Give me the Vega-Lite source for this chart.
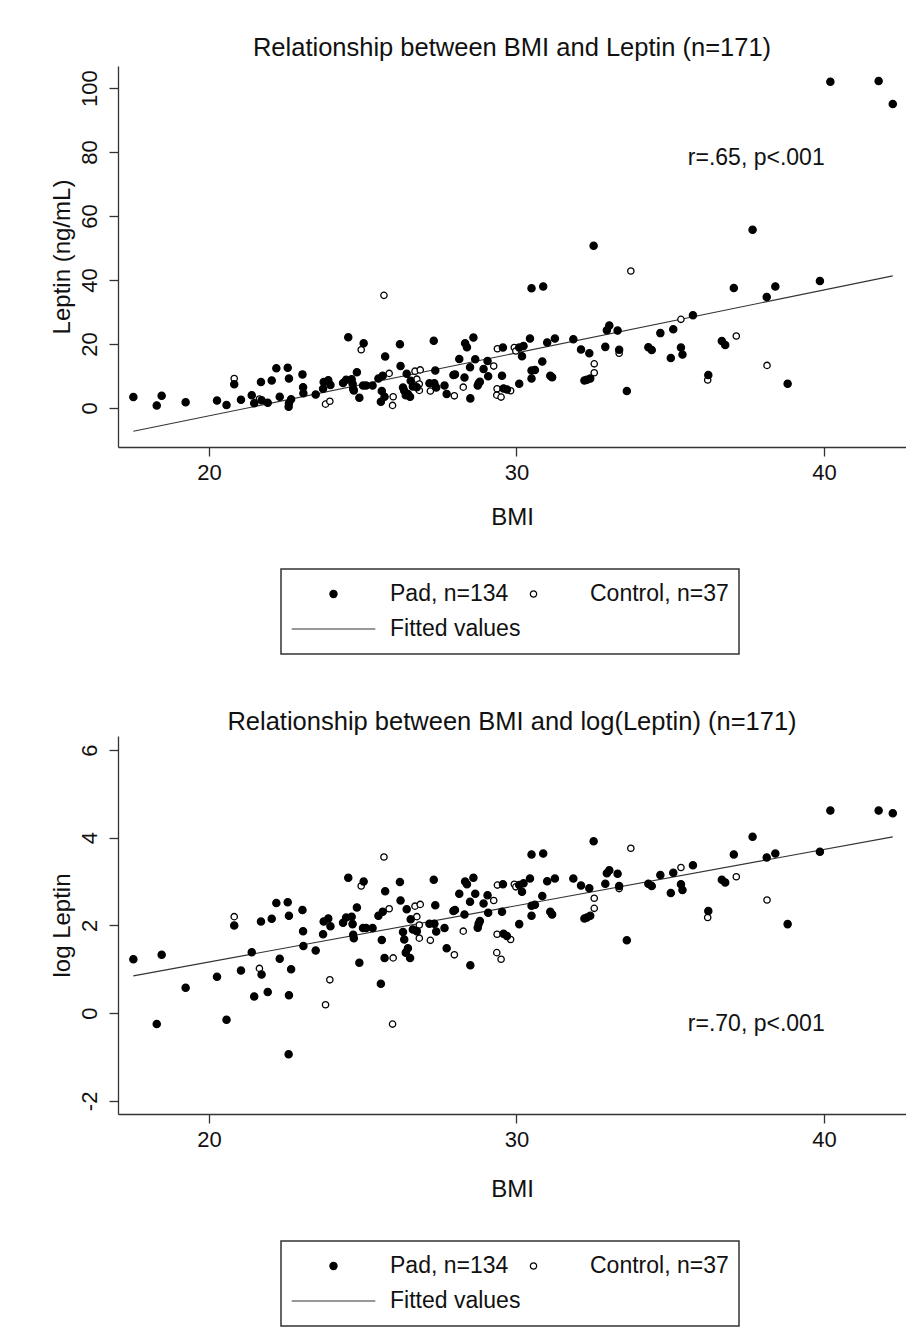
{
  "$schema": "https://vega.github.io/schema/vega-lite/v6.json",
  "background": "white",
  "padding": {"left": 50, "top": 35, "right": 0, "bottom": 0},
  "bounds": "flush",
  "spacing": 289,
  "datasets": {
    "pts": [
      {"g": "Control, n=37", "bmi": 20.82, "lep": 9.2, "llep": 2.20},
      {"g": "Control, n=37", "bmi": 21.64, "lep": 2.8, "llep": 1.02},
      {"g": "Control, n=37", "bmi": 23.79, "lep": 1.2, "llep": 0.19},
      {"g": "Control, n=37", "bmi": 23.93, "lep": 2.1, "llep": 0.76},
      {"g": "Control, n=37", "bmi": 24.95, "lep": 18.2, "llep": 2.90},
      {"g": "Control, n=37", "bmi": 25.69, "lep": 35.2, "llep": 3.56},
      {"g": "Control, n=37", "bmi": 25.86, "lep": 10.8, "llep": 2.38},
      {"g": "Control, n=37", "bmi": 25.99, "lep": 3.5, "llep": 1.26},
      {"g": "Control, n=37", "bmi": 25.97, "lep": 0.8, "llep": -0.25},
      {"g": "Control, n=37", "bmi": 26.70, "lep": 11.5, "llep": 2.44},
      {"g": "Control, n=37", "bmi": 26.76, "lep": 9.0, "llep": 2.20},
      {"g": "Control, n=37", "bmi": 26.84, "lep": 7.5, "llep": 2.01},
      {"g": "Control, n=37", "bmi": 26.87, "lep": 11.9, "llep": 2.48},
      {"g": "Control, n=37", "bmi": 26.84, "lep": 5.5, "llep": 1.71},
      {"g": "Control, n=37", "bmi": 27.20, "lep": 5.3, "llep": 1.66},
      {"g": "Control, n=37", "bmi": 27.98, "lep": 3.8, "llep": 1.33},
      {"g": "Control, n=37", "bmi": 28.27, "lep": 6.5, "llep": 1.87},
      {"g": "Control, n=37", "bmi": 29.26, "lep": 13.1, "llep": 2.57},
      {"g": "Control, n=37", "bmi": 29.38, "lep": 18.5, "llep": 2.92},
      {"g": "Control, n=37", "bmi": 29.37, "lep": 6.0, "llep": 1.80},
      {"g": "Control, n=37", "bmi": 29.36, "lep": 4.0, "llep": 1.38},
      {"g": "Control, n=37", "bmi": 29.50, "lep": 3.4, "llep": 1.23},
      {"g": "Control, n=37", "bmi": 29.81, "lep": 5.4, "llep": 1.68},
      {"g": "Control, n=37", "bmi": 29.93, "lep": 18.9, "llep": 2.94},
      {"g": "Control, n=37", "bmi": 29.98, "lep": 17.8, "llep": 2.88},
      {"g": "Control, n=37", "bmi": 32.53, "lep": 13.8, "llep": 2.62},
      {"g": "Control, n=37", "bmi": 32.53, "lep": 11.0, "llep": 2.39},
      {"g": "Control, n=37", "bmi": 33.34, "lep": 17.1, "llep": 2.84},
      {"g": "Control, n=37", "bmi": 33.72, "lep": 42.8, "llep": 3.76},
      {"g": "Control, n=37", "bmi": 35.35, "lep": 27.7, "llep": 3.32},
      {"g": "Control, n=37", "bmi": 36.22, "lep": 8.75, "llep": 2.18},
      {"g": "Control, n=37", "bmi": 37.15, "lep": 22.5, "llep": 3.11},
      {"g": "Control, n=37", "bmi": 38.15, "lep": 13.3, "llep": 2.58},
      {"g": "Control, n=37", "bmi": 24.67, "lep": 7.6, "llep": 2.03},
      {"g": "Control, n=37", "bmi": 27.33, "lep": 7.7, "llep": 2.04},
      {"g": "Control, n=37", "bmi": 28.77, "lep": 7.7, "llep": 2.04},
      {"g": "Control, n=37", "bmi": 31.16, "lep": 9.6, "llep": 2.25},
      {"g": "Pad, n=134", "bmi": 17.54, "lep": 3.4, "llep": 1.23},
      {"g": "Pad, n=134", "bmi": 18.30, "lep": 0.8, "llep": -0.25},
      {"g": "Pad, n=134", "bmi": 18.46, "lep": 3.8, "llep": 1.33},
      {"g": "Pad, n=134", "bmi": 19.24, "lep": 1.8, "llep": 0.58},
      {"g": "Pad, n=134", "bmi": 20.26, "lep": 2.3, "llep": 0.83},
      {"g": "Pad, n=134", "bmi": 20.57, "lep": 0.9, "llep": -0.15},
      {"g": "Pad, n=134", "bmi": 20.82, "lep": 7.4, "llep": 2.00},
      {"g": "Pad, n=134", "bmi": 21.04, "lep": 2.6, "llep": 0.97},
      {"g": "Pad, n=134", "bmi": 21.39, "lep": 4.0, "llep": 1.39},
      {"g": "Pad, n=134", "bmi": 21.47, "lep": 1.5, "llep": 0.38},
      {"g": "Pad, n=134", "bmi": 21.71, "lep": 2.4, "llep": 0.88},
      {"g": "Pad, n=134", "bmi": 21.69, "lep": 8.1, "llep": 2.09},
      {"g": "Pad, n=134", "bmi": 21.91, "lep": 1.6, "llep": 0.48},
      {"g": "Pad, n=134", "bmi": 22.04, "lep": 8.6, "llep": 2.15},
      {"g": "Pad, n=134", "bmi": 22.19, "lep": 12.4, "llep": 2.51},
      {"g": "Pad, n=134", "bmi": 22.30, "lep": 3.5, "llep": 1.24},
      {"g": "Pad, n=134", "bmi": 22.56, "lep": 12.6, "llep": 2.53},
      {"g": "Pad, n=134", "bmi": 22.60, "lep": 9.2, "llep": 2.22},
      {"g": "Pad, n=134", "bmi": 22.67, "lep": 2.7, "llep": 1.00},
      {"g": "Pad, n=134", "bmi": 22.60, "lep": 1.5, "llep": 0.41},
      {"g": "Pad, n=134", "bmi": 22.59, "lep": 0.4, "llep": -0.94},
      {"g": "Pad, n=134", "bmi": 23.04, "lep": 10.5, "llep": 2.35},
      {"g": "Pad, n=134", "bmi": 23.06, "lep": 6.5, "llep": 1.87},
      {"g": "Pad, n=134", "bmi": 23.07, "lep": 4.6, "llep": 1.53},
      {"g": "Pad, n=134", "bmi": 23.47, "lep": 4.2, "llep": 1.43},
      {"g": "Pad, n=134", "bmi": 23.71, "lep": 6.0, "llep": 1.80},
      {"g": "Pad, n=134", "bmi": 23.73, "lep": 8.1, "llep": 2.09},
      {"g": "Pad, n=134", "bmi": 23.88, "lep": 8.7, "llep": 2.16},
      {"g": "Pad, n=134", "bmi": 23.95, "lep": 7.2, "llep": 1.98},
      {"g": "Pad, n=134", "bmi": 24.36, "lep": 7.8, "llep": 2.06},
      {"g": "Pad, n=134", "bmi": 24.46, "lep": 8.8, "llep": 2.18},
      {"g": "Pad, n=134", "bmi": 24.53, "lep": 22.1, "llep": 3.09},
      {"g": "Pad, n=134", "bmi": 24.64, "lep": 9.0, "llep": 2.20},
      {"g": "Pad, n=134", "bmi": 24.67, "lep": 7.6, "llep": 2.03},
      {"g": "Pad, n=134", "bmi": 24.69, "lep": 6.0, "llep": 1.79},
      {"g": "Pad, n=134", "bmi": 24.71, "lep": 5.5, "llep": 1.71},
      {"g": "Pad, n=134", "bmi": 24.81, "lep": 11.2, "llep": 2.41},
      {"g": "Pad, n=134", "bmi": 24.89, "lep": 3.2, "llep": 1.15},
      {"g": "Pad, n=134", "bmi": 25.03, "lep": 20.2, "llep": 3.00},
      {"g": "Pad, n=134", "bmi": 25.01, "lep": 7.0, "llep": 1.94},
      {"g": "Pad, n=134", "bmi": 25.11, "lep": 7.0, "llep": 1.94},
      {"g": "Pad, n=134", "bmi": 25.32, "lep": 7.0, "llep": 1.94},
      {"g": "Pad, n=134", "bmi": 25.51, "lep": 9.2, "llep": 2.22},
      {"g": "Pad, n=134", "bmi": 25.65, "lep": 10.1, "llep": 2.31},
      {"g": "Pad, n=134", "bmi": 25.59, "lep": 1.95, "llep": 0.67},
      {"g": "Pad, n=134", "bmi": 25.62, "lep": 5.3, "llep": 1.67},
      {"g": "Pad, n=134", "bmi": 25.73, "lep": 16.1, "llep": 2.78},
      {"g": "Pad, n=134", "bmi": 25.71, "lep": 3.5, "llep": 1.26},
      {"g": "Pad, n=134", "bmi": 26.21, "lep": 19.9, "llep": 2.99},
      {"g": "Pad, n=134", "bmi": 26.23, "lep": 13.1, "llep": 2.57},
      {"g": "Pad, n=134", "bmi": 26.31, "lep": 6.4, "llep": 1.85},
      {"g": "Pad, n=134", "bmi": 26.35, "lep": 5.4, "llep": 1.68},
      {"g": "Pad, n=134", "bmi": 26.43, "lep": 10.7, "llep": 2.37},
      {"g": "Pad, n=134", "bmi": 26.47, "lep": 4.4, "llep": 1.48},
      {"g": "Pad, n=134", "bmi": 26.40, "lep": 4.0, "llep": 1.38},
      {"g": "Pad, n=134", "bmi": 26.54, "lep": 3.5, "llep": 1.26},
      {"g": "Pad, n=134", "bmi": 26.56, "lep": 8.5, "llep": 2.14},
      {"g": "Pad, n=134", "bmi": 26.63, "lep": 6.75, "llep": 1.91},
      {"g": "Pad, n=134", "bmi": 26.76, "lep": 6.5, "llep": 1.87},
      {"g": "Pad, n=134", "bmi": 27.17, "lep": 7.7, "llep": 2.04},
      {"g": "Pad, n=134", "bmi": 27.31, "lep": 21.0, "llep": 3.04},
      {"g": "Pad, n=134", "bmi": 27.36, "lep": 11.7, "llep": 2.46},
      {"g": "Pad, n=134", "bmi": 27.33, "lep": 7.7, "llep": 2.04},
      {"g": "Pad, n=134", "bmi": 27.39, "lep": 6.4, "llep": 1.86},
      {"g": "Pad, n=134", "bmi": 27.66, "lep": 7.0, "llep": 1.94},
      {"g": "Pad, n=134", "bmi": 27.73, "lep": 4.4, "llep": 1.48},
      {"g": "Pad, n=134", "bmi": 27.95, "lep": 10.3, "llep": 2.33},
      {"g": "Pad, n=134", "bmi": 28.00, "lep": 10.5, "llep": 2.35},
      {"g": "Pad, n=134", "bmi": 28.14, "lep": 15.3, "llep": 2.72},
      {"g": "Pad, n=134", "bmi": 28.31, "lep": 9.5, "llep": 2.25},
      {"g": "Pad, n=134", "bmi": 28.33, "lep": 20.2, "llep": 3.00},
      {"g": "Pad, n=134", "bmi": 28.39, "lep": 19.0, "llep": 2.94},
      {"g": "Pad, n=134", "bmi": 28.49, "lep": 12.7, "llep": 2.54},
      {"g": "Pad, n=134", "bmi": 28.60, "lep": 22.0, "llep": 3.09},
      {"g": "Pad, n=134", "bmi": 28.66, "lep": 15.2, "llep": 2.72},
      {"g": "Pad, n=134", "bmi": 28.50, "lep": 3.0, "llep": 1.09},
      {"g": "Pad, n=134", "bmi": 28.74, "lep": 7.0, "llep": 1.95},
      {"g": "Pad, n=134", "bmi": 28.77, "lep": 7.7, "llep": 2.04},
      {"g": "Pad, n=134", "bmi": 28.81, "lep": 8.2, "llep": 2.10},
      {"g": "Pad, n=134", "bmi": 28.93, "lep": 12.2, "llep": 2.50},
      {"g": "Pad, n=134", "bmi": 29.06, "lep": 14.7, "llep": 2.69},
      {"g": "Pad, n=134", "bmi": 29.08, "lep": 9.9, "llep": 2.29},
      {"g": "Pad, n=134", "bmi": 29.53, "lep": 10.1, "llep": 2.31},
      {"g": "Pad, n=134", "bmi": 29.56, "lep": 18.9, "llep": 2.94},
      {"g": "Pad, n=134", "bmi": 29.58, "lep": 6.1, "llep": 1.81},
      {"g": "Pad, n=134", "bmi": 29.69, "lep": 5.8, "llep": 1.76},
      {"g": "Pad, n=134", "bmi": 30.09, "lep": 7.6, "llep": 2.03},
      {"g": "Pad, n=134", "bmi": 30.09, "lep": 18.9, "llep": 2.92},
      {"g": "Pad, n=134", "bmi": 30.23, "lep": 19.4, "llep": 2.96},
      {"g": "Pad, n=134", "bmi": 30.18, "lep": 16.2, "llep": 2.77},
      {"g": "Pad, n=134", "bmi": 30.44, "lep": 21.7, "llep": 3.07},
      {"g": "Pad, n=134", "bmi": 30.49, "lep": 37.4, "llep": 3.62},
      {"g": "Pad, n=134", "bmi": 30.87, "lep": 38.0, "llep": 3.64},
      {"g": "Pad, n=134", "bmi": 30.84, "lep": 14.5, "llep": 2.67},
      {"g": "Pad, n=134", "bmi": 30.49, "lep": 11.7, "llep": 2.45},
      {"g": "Pad, n=134", "bmi": 30.60, "lep": 11.9, "llep": 2.47},
      {"g": "Pad, n=134", "bmi": 30.49, "lep": 9.2, "llep": 2.22},
      {"g": "Pad, n=134", "bmi": 31.00, "lep": 20.5, "llep": 3.01},
      {"g": "Pad, n=134", "bmi": 31.25, "lep": 21.7, "llep": 3.07},
      {"g": "Pad, n=134", "bmi": 31.10, "lep": 10.1, "llep": 2.31},
      {"g": "Pad, n=134", "bmi": 31.16, "lep": 9.6, "llep": 2.25},
      {"g": "Pad, n=134", "bmi": 31.85, "lep": 21.5, "llep": 3.07},
      {"g": "Pad, n=134", "bmi": 32.10, "lep": 18.3, "llep": 2.91},
      {"g": "Pad, n=134", "bmi": 32.37, "lep": 17.1, "llep": 2.85},
      {"g": "Pad, n=134", "bmi": 32.51, "lep": 50.7, "llep": 3.92},
      {"g": "Pad, n=134", "bmi": 32.21, "lep": 8.6, "llep": 2.16},
      {"g": "Pad, n=134", "bmi": 32.29, "lep": 8.8, "llep": 2.18},
      {"g": "Pad, n=134", "bmi": 32.40, "lep": 9.2, "llep": 2.22},
      {"g": "Pad, n=134", "bmi": 32.89, "lep": 19.1, "llep": 2.95},
      {"g": "Pad, n=134", "bmi": 32.94, "lep": 24.3, "llep": 3.19},
      {"g": "Pad, n=134", "bmi": 33.02, "lep": 25.8, "llep": 3.26},
      {"g": "Pad, n=134", "bmi": 33.29, "lep": 24.2, "llep": 3.18},
      {"g": "Pad, n=134", "bmi": 33.34, "lep": 18.2, "llep": 2.90},
      {"g": "Pad, n=134", "bmi": 33.59, "lep": 5.3, "llep": 1.66},
      {"g": "Pad, n=134", "bmi": 34.29, "lep": 19.0, "llep": 2.95},
      {"g": "Pad, n=134", "bmi": 34.40, "lep": 18.1, "llep": 2.90},
      {"g": "Pad, n=134", "bmi": 34.68, "lep": 23.4, "llep": 3.15},
      {"g": "Pad, n=134", "bmi": 35.02, "lep": 15.6, "llep": 2.74},
      {"g": "Pad, n=134", "bmi": 35.10, "lep": 24.6, "llep": 3.20},
      {"g": "Pad, n=134", "bmi": 35.35, "lep": 18.9, "llep": 2.94},
      {"g": "Pad, n=134", "bmi": 35.40, "lep": 16.7, "llep": 2.81},
      {"g": "Pad, n=134", "bmi": 35.74, "lep": 29.0, "llep": 3.37},
      {"g": "Pad, n=134", "bmi": 36.24, "lep": 10.3, "llep": 2.33},
      {"g": "Pad, n=134", "bmi": 36.68, "lep": 20.9, "llep": 3.04},
      {"g": "Pad, n=134", "bmi": 36.79, "lep": 19.7, "llep": 2.98},
      {"g": "Pad, n=134", "bmi": 37.07, "lep": 37.5, "llep": 3.62},
      {"g": "Pad, n=134", "bmi": 37.68, "lep": 55.7, "llep": 4.02},
      {"g": "Pad, n=134", "bmi": 38.14, "lep": 34.7, "llep": 3.55},
      {"g": "Pad, n=134", "bmi": 38.42, "lep": 38.0, "llep": 3.64},
      {"g": "Pad, n=134", "bmi": 38.82, "lep": 7.6, "llep": 2.03},
      {"g": "Pad, n=134", "bmi": 39.87, "lep": 39.7, "llep": 3.68},
      {"g": "Pad, n=134", "bmi": 40.21, "lep": 102.0, "llep": 4.62},
      {"g": "Pad, n=134", "bmi": 41.78, "lep": 102.2, "llep": 4.62},
      {"g": "Pad, n=134", "bmi": 42.24, "lep": 95.0, "llep": 4.56}
    ],
    "fit": [
      {"bmi": 17.54, "lep": -7.3, "llep": 0.85},
      {"bmi": 42.24, "lep": 41.3, "llep": 4.02}
    ],
    "ann1": [{"bmi": 37.8, "lep": 78.2, "txt": "r=.65, p<.001"}],
    "ann2": [{"bmi": 37.8, "llep": -0.24, "txt": "r=.70, p<.001"}]
  },
  "config": {
    "font": "Liberation Sans",
    "view": {"stroke": null},
    "axis": {
      "grid": false,
      "domainColor": "#333333",
      "domainWidth": 1.3,
      "tickColor": "#333333",
      "tickWidth": 1.3,
      "tickSize": 9,
      "labelFont": "Liberation Sans",
      "labelFontSize": 22,
      "labelColor": "#111111",
      "labelFlush": false,
      "labelOverlap": false,
      "labelExpr": "'' + datum.value",
      "titleFont": "Liberation Sans",
      "titleFontSize": 24,
      "titleFontWeight": "normal",
      "titleColor": "#111111"
    },
    "axisX": {"labelPadding": 6, "titlePadding": 22},
    "axisY": {"labelAngle": -90, "labelAlign": "center", "labelBaseline": "bottom", "labelPadding": 8, "titlePadding": 4},
    "title": {"font": "Liberation Sans", "fontSize": 25.5, "fontWeight": "normal", "color": "#111111", "anchor": "middle", "frame": "group"},
    "legend": {
      "orient": "none",
      "direction": "horizontal",
      "columns": 2,
      "gridAlign": "none",
      "strokeColor": "#333333",
      "strokeWidth": 1.5,
      "fillColor": "white",
      "padding": 10,
      "labelFont": "Liberation Sans",
      "labelFontSize": 23,
      "labelColor": "#111111",
      "labelOffset": 14,
      "symbolStrokeWidth": 1.2,
      "clipHeight": 30,
      "rowPadding": 5,
      "columnPadding": -30,
      "symbolOffset": 0
    }
  },
  "resolve": {
    "scale": {"x": "independent", "y": "independent", "shape": "independent", "fill": "independent", "size": "independent", "stroke": "independent"},
    "legend": {"shape": "independent", "fill": "independent", "size": "independent", "stroke": "independent"}
  },
  "vconcat": [
    {
      "width": 788,
      "height": 381,
      "title": {"text": "Relationship between BMI and Leptin (n=171)", "baseline": "alphabetic", "offset": -15},
      "layer": [
        {
          "data": {"name": "fit"},
          "mark": {"type": "line", "color": "#333333", "strokeWidth": 1.1},
          "encoding": {
            "x": {"field": "bmi", "type": "quantitative", "title": "BMI", "scale": {"domain": [17.04, 42.67], "nice": false, "zero": false}, "axis": {"values": [20, 30, 40]}},
            "y": {"field": "lep", "type": "quantitative", "title": "Leptin (ng/mL)", "scale": {"domain": [-12.2, 106.9], "nice": false, "zero": false}, "axis": {"values": [0, 20, 40, 60, 80, 100]}}
          }
        },
        {
          "data": {"name": "pts"},
          "mark": {"type": "point", "filled": true, "strokeWidth": 1.3, "opacity": 1},
          "encoding": {
            "x": {"field": "bmi", "type": "quantitative", "title": "BMI"},
            "y": {"field": "lep", "type": "quantitative", "title": "Leptin (ng/mL)"},
            "shape": {"field": "g", "type": "nominal", "scale": {"domain": ["Pad, n=134", "Control, n=37", "Fitted values"], "range": ["circle", "circle", "M-1,0L1,0"]}, "legend": {"title": null, "legendX": 163, "legendY": 503, "encode": {"symbols": {"update": {"x": {"signal": "datum.index === 1 ? datum.offset - 10 : datum.offset / 2"}}}}}},
            "fill": {"field": "g", "type": "nominal", "scale": {"domain": ["Pad, n=134", "Control, n=37", "Fitted values"], "range": ["black", "white", "transparent"]}, "legend": {"title": null, "legendX": 163, "legendY": 503, "encode": {"symbols": {"update": {"x": {"signal": "datum.index === 1 ? datum.offset - 10 : datum.offset / 2"}}}}}},
            "stroke": {"field": "g", "type": "nominal", "scale": {"domain": ["Pad, n=134", "Control, n=37", "Fitted values"], "range": ["black", "black", "#333333"]}, "legend": {"title": null, "legendX": 163, "legendY": 503, "encode": {"symbols": {"update": {"x": {"signal": "datum.index === 1 ? datum.offset - 10 : datum.offset / 2"}}}}}},
            "size": {"field": "g", "type": "nominal", "scale": {"type": "ordinal", "domain": ["Pad, n=134", "Control, n=37", "Fitted values"], "range": [52, 40, 7000]}, "legend": {"title": null, "legendX": 163, "legendY": 503, "encode": {"symbols": {"update": {"x": {"signal": "datum.index === 1 ? datum.offset - 10 : datum.offset / 2"}}}}}}
          }
        },
        {
          "data": {"name": "ann1"},
          "mark": {"type": "text", "fontSize": 23, "font": "Liberation Sans", "color": "#111111", "align": "center", "baseline": "middle"},
          "encoding": {
            "x": {"field": "bmi", "type": "quantitative", "title": "BMI"},
            "y": {"field": "lep", "type": "quantitative", "title": "Leptin (ng/mL)"},
            "text": {"field": "txt", "type": "nominal"}
          }
        }
      ]
    },
    {
      "width": 788,
      "height": 378,
      "title": {"text": "Relationship between BMI and log(Leptin) (n=171)", "baseline": "alphabetic", "offset": -19},
      "layer": [
        {
          "data": {"name": "fit"},
          "mark": {"type": "line", "color": "#333333", "strokeWidth": 1.1},
          "encoding": {
            "x": {"field": "bmi", "type": "quantitative", "title": "BMI", "scale": {"domain": [17.04, 42.67], "nice": false, "zero": false}, "axis": {"values": [20, 30, 40], "titlePadding": 27}},
            "y": {"field": "llep", "type": "quantitative", "title": "log Leptin", "scale": {"domain": [-2.3, 6.32], "nice": false, "zero": false}, "axis": {"values": [-2, 0, 2, 4, 6]}}
          }
        },
        {
          "data": {"name": "pts"},
          "mark": {"type": "point", "filled": true, "strokeWidth": 1.3, "opacity": 1},
          "encoding": {
            "x": {"field": "bmi", "type": "quantitative", "title": "BMI"},
            "y": {"field": "llep", "type": "quantitative", "title": "log Leptin"},
            "shape": {"field": "g", "type": "nominal", "scale": {"domain": ["Pad, n=134", "Control, n=37", "Fitted values"], "range": ["circle", "circle", "M-1,0L1,0"]}, "legend": {"title": null, "legendX": 163, "legendY": 505, "encode": {"symbols": {"update": {"x": {"signal": "datum.index === 1 ? datum.offset - 10 : datum.offset / 2"}}}}}},
            "fill": {"field": "g", "type": "nominal", "scale": {"domain": ["Pad, n=134", "Control, n=37", "Fitted values"], "range": ["black", "white", "transparent"]}, "legend": {"title": null, "legendX": 163, "legendY": 505, "encode": {"symbols": {"update": {"x": {"signal": "datum.index === 1 ? datum.offset - 10 : datum.offset / 2"}}}}}},
            "stroke": {"field": "g", "type": "nominal", "scale": {"domain": ["Pad, n=134", "Control, n=37", "Fitted values"], "range": ["black", "black", "#333333"]}, "legend": {"title": null, "legendX": 163, "legendY": 505, "encode": {"symbols": {"update": {"x": {"signal": "datum.index === 1 ? datum.offset - 10 : datum.offset / 2"}}}}}},
            "size": {"field": "g", "type": "nominal", "scale": {"type": "ordinal", "domain": ["Pad, n=134", "Control, n=37", "Fitted values"], "range": [52, 40, 7000]}, "legend": {"title": null, "legendX": 163, "legendY": 505, "encode": {"symbols": {"update": {"x": {"signal": "datum.index === 1 ? datum.offset - 10 : datum.offset / 2"}}}}}}
          }
        },
        {
          "data": {"name": "ann2"},
          "mark": {"type": "text", "fontSize": 23, "font": "Liberation Sans", "color": "#111111", "align": "center", "baseline": "middle"},
          "encoding": {
            "x": {"field": "bmi", "type": "quantitative", "title": "BMI"},
            "y": {"field": "llep", "type": "quantitative", "title": "log Leptin"},
            "text": {"field": "txt", "type": "nominal"}
          }
        }
      ]
    }
  ]
}
